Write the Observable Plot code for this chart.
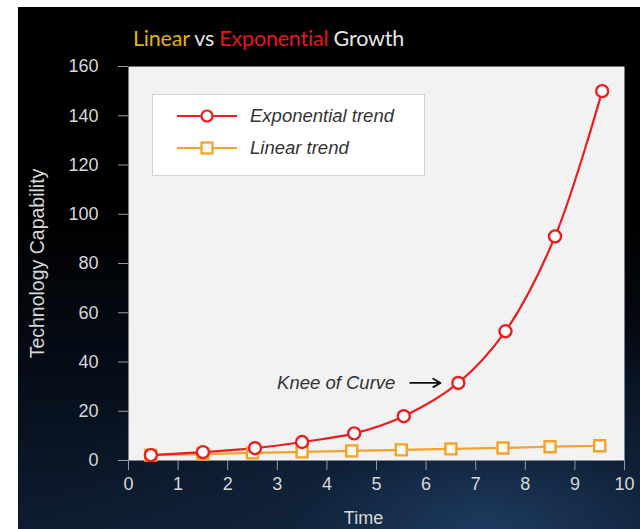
<!DOCTYPE html>
<html>
<head>
<meta charset="utf-8">
<script src="https://cdn.jsdelivr.net/npm/d3@7"></script>
<script src="https://cdn.jsdelivr.net/npm/@observablehq/plot@0.6"></script>
<style>
  html, body { margin: 0; padding: 0; background: #fff; }
  #wrap { position: relative; width: 640px; height: 529px; background: #fff; overflow: hidden; }
  #bg { position: absolute; left: 18px; top: 7px; right: 0; bottom: 0;
        background:
          radial-gradient(ellipse 70% 40% at 75% 100%, rgba(30,60,98,0.95) 0%, rgba(18,38,64,0.6) 45%, rgba(0,0,0,0) 100%),
          linear-gradient(to bottom, #000 0%, #000 40%, #060d18 70%, #0e1d31 100%); }
  #title { position: absolute; left: 133px; top: 25px; font-family: Lato, "Open Sans", sans-serif; font-size: 21.5px; color: #e6e6e6; white-space: nowrap; letter-spacing: -0.2px; }
  #chart { position: absolute; left: 0; top: 50px; }
  #legend { position: absolute; left: 152px; top: 94px; width: 271px; height: 80px; background: #fff; border: 1px solid #d2d2d2; }
  .li { position: absolute; left: 24px; height: 20px; display: flex; align-items: center; }
  .li span { margin-left: 13px; font-family: "Liberation Sans", Arial, sans-serif; font-style: italic; font-size: 18.5px; color: #333; }
</style>
</head>
<body>
<div id="wrap">
  <div id="bg"></div>
  <div id="title"><span style="color:#e3b312">Linear</span> vs <span style="color:#e8161d">Exponential</span> Growth</div>
  <div id="chart"></div>
  <div id="legend"></div>
</div>
<script>
// ---- data ----
const expTimes  = [0.45, 1.5, 2.55, 3.5, 4.55, 5.55, 6.65, 7.6, 8.6, 9.55];
const expValues = [2.2, 3.4, 5, 7.5, 11, 18, 31.5, 52.5, 91, 150];
const linTimes  = [0.45, 1.5, 2.5, 3.5, 4.5, 5.5, 6.5, 7.55, 8.5, 9.5];
const linValues = [2.2, 2.6, 3.1, 3.5, 3.9, 4.3, 4.7, 5.1, 5.6, 6.0];
const xTicks = [0, 1, 2, 3, 4, 5, 6, 7, 8, 9, 10];
const yTicks = [0, 20, 40, 60, 80, 100, 120, 140, 160];
const seriesNames = ["Exponential trend", "Linear trend"];
const kneeLabel = "Knee of Curve";
const kneeIndex = 6;

const RED = "#ee1c1c";
const ORANGE = "#f4a22a";

const expData = expTimes.map((t, i) => ({time: t, value: expValues[i]}));
const linData = linTimes.map((t, i) => ({time: t, value: linValues[i]}));
const knee = [expData[kneeIndex]];

const plot = Plot.plot({
  width: 640,
  height: 479,
  marginTop: 16,
  marginBottom: 69,
  marginLeft: 128,
  marginRight: 16,
  style: {background: "transparent", fontFamily: "'Liberation Sans', Arial, sans-serif", overflow: "visible"},
  x: {domain: [0, 10]},
  y: {domain: [0, 160]},
  marks: [
    Plot.frame({fill: "#f2f2f2", stroke: null}),
    Plot.axisY({ticks: yTicks, tickSize: 10, tickPadding: 20, fontSize: 18, fill: "#d8d8d8", stroke: "#9a9a9a", label: null}),
    Plot.axisX({ticks: xTicks, tickSize: 10, tickPadding: 7, fontSize: 18, fill: "#d8d8d8", stroke: "#9a9a9a", label: null}),
    Plot.text(["Technology Capability"], {frameAnchor: "left", textAnchor: "middle", dx: -91, rotate: -90, fontSize: 19.5, fill: "#d8d8d8"}),
    Plot.text(["Time"], {frameAnchor: "bottom", dx: -13, dy: 63, fontSize: 18, fill: "#d8d8d8"}),
    Plot.line(linData, {x: "time", y: "value", stroke: ORANGE, strokeWidth: 2.2}),
    Plot.line(expData, {x: "time", y: "value", stroke: RED, strokeWidth: 2.2, curve: "catmull-rom"}),
    Plot.dot(linData, {x: "time", y: "value", symbol: "square", r: 6.2, stroke: ORANGE, strokeWidth: 2.4, fill: "#fff8ee"}),
    Plot.dot(expData, {x: "time", y: "value", r: 6, stroke: RED, strokeWidth: 2.4, fill: "#fff"}),
    Plot.text(knee, {x: "time", y: "value", text: () => kneeLabel, dx: -63, textAnchor: "end", fontSize: 18.5, fontStyle: "italic", fill: "#333"}),
    Plot.arrow(knee, {x1: d => d.time - 0.97, x2: d => d.time - 0.36, y1: "value", y2: "value", stroke: "#111", strokeWidth: 1.8, headLength: 7})
  ]
});
document.getElementById("chart").appendChild(plot);

// legend
const legend = document.getElementById("legend");
const legendRows = [
  {name: seriesNames[0], color: RED, shape: "circle", top: 11},
  {name: seriesNames[1], color: ORANGE, shape: "square", top: 43}
];
for (const r of legendRows) {
  const row = document.createElement("div");
  row.className = "li";
  row.style.top = r.top + "px";
  const marker = r.shape === "circle"
    ? `<circle cx="30" cy="10" r="5.5" fill="#fff" stroke="${r.color}" stroke-width="2.2"/>`
    : `<rect x="24.5" y="4.5" width="11" height="11" fill="#fff8ee" stroke="${r.color}" stroke-width="2.2"/>`;
  row.innerHTML = `<svg width="60" height="20"><line x1="0" x2="60" y1="10" y2="10" stroke="${r.color}" stroke-width="2"/>${marker}</svg><span>${r.name}</span>`;
  legend.appendChild(row);
}
</script>
</body>
</html>
